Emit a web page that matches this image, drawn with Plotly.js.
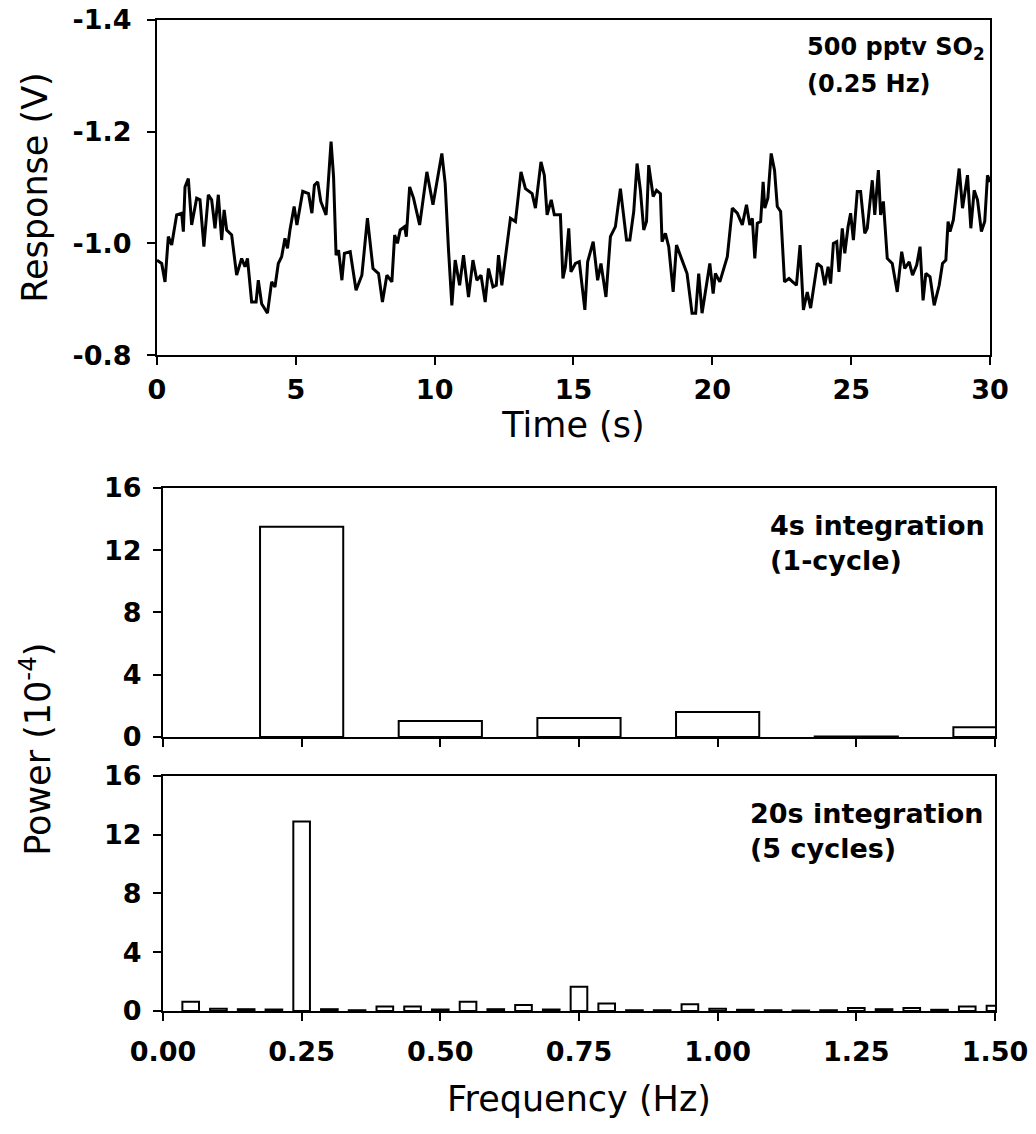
<!DOCTYPE html>
<html><head><meta charset="utf-8">
<script src="https://cdn.plot.ly/plotly-3.0.1.min.js"></script>
<style>body{margin:0;background:#fff}</style>
</head><body><div id="chart" style="width:1036px;height:1134px"></div>
<script>
// ---- data ----
const timeS = [0.00,0.17,0.29,0.41,0.53,0.71,0.89,0.95,1.01,1.13,1.25,1.43,1.55,1.69,1.85,1.97,2.09,2.21,2.33,2.42,2.51,2.69,2.87,3.05,3.17,3.26,3.41,3.57,3.65,3.77,3.98,4.13,4.25,4.37,4.49,4.61,4.70,4.79,4.94,5.04,5.25,5.46,5.58,5.67,5.79,5.90,6.09,6.27,6.36,6.45,6.54,6.66,6.75,6.96,7.17,7.38,7.58,7.78,7.98,8.12,8.28,8.46,8.56,8.66,8.76,8.92,8.98,9.10,9.24,9.46,9.72,9.94,10.26,10.38,10.50,10.62,10.74,10.90,11.04,11.22,11.38,11.52,11.67,11.82,11.94,12.10,12.22,12.30,12.42,12.73,12.91,13.11,13.27,13.51,13.63,13.83,13.95,14.05,14.20,14.31,14.53,14.62,14.71,14.83,14.91,15.07,15.21,15.41,15.51,15.71,15.87,15.99,16.17,16.33,16.51,16.69,16.91,17.03,17.17,17.29,17.41,17.53,17.63,17.71,17.87,17.99,18.13,18.19,18.31,18.43,18.59,18.71,18.91,19.09,19.27,19.40,19.51,19.63,19.91,20.03,20.11,20.27,20.54,20.72,20.90,21.08,21.23,21.35,21.44,21.53,21.62,21.74,21.83,21.89,22.00,22.12,22.24,22.34,22.46,22.60,22.76,23.03,23.16,23.28,23.42,23.54,23.78,23.93,24.05,24.17,24.26,24.36,24.48,24.56,24.68,24.77,24.89,24.98,25.08,25.22,25.34,25.49,25.58,25.76,25.85,25.98,26.06,26.16,26.30,26.48,26.66,26.82,26.93,27.09,27.21,27.36,27.48,27.59,27.69,27.84,27.99,28.17,28.29,28.41,28.49,28.56,28.68,28.89,29.01,29.19,29.31,29.43,29.55,29.69,29.81,29.91,30.00];
const responseV = [-0.970,-0.964,-0.931,-1.012,-0.997,-1.051,-1.054,-1.021,-1.101,-1.116,-1.033,-1.081,-1.078,-0.994,-1.087,-1.078,-1.027,-1.087,-1.006,-1.060,-1.024,-1.015,-0.943,-0.973,-0.958,-0.973,-0.895,-0.895,-0.934,-0.892,-0.875,-0.931,-0.922,-0.964,-0.976,-1.009,-0.991,-1.024,-1.066,-1.033,-1.093,-1.089,-1.054,-1.104,-1.110,-1.075,-1.051,-1.182,-1.119,-0.979,-0.988,-0.934,-0.982,-0.985,-0.916,-0.943,-1.045,-0.955,-0.946,-0.895,-0.943,-0.931,-1.015,-1.000,-1.024,-1.030,-1.012,-1.101,-1.081,-1.033,-1.128,-1.069,-1.161,-1.107,-0.988,-0.889,-0.970,-0.925,-0.979,-0.904,-0.970,-0.934,-0.943,-0.895,-0.955,-0.922,-0.925,-0.979,-0.925,-1.045,-1.039,-1.128,-1.098,-1.089,-1.063,-1.146,-1.122,-1.051,-1.078,-1.051,-1.051,-0.937,-0.958,-1.027,-0.949,-0.964,-0.967,-0.881,-0.967,-1.003,-0.934,-0.964,-0.904,-1.012,-1.030,-1.098,-1.006,-1.006,-1.057,-1.143,-1.095,-1.024,-1.039,-1.140,-1.084,-1.095,-1.089,-1.003,-1.018,-0.994,-0.913,-0.997,-0.970,-0.946,-0.875,-0.875,-0.946,-0.875,-0.964,-0.910,-0.946,-0.931,-0.976,-1.063,-1.054,-1.033,-1.069,-1.033,-1.045,-0.973,-1.036,-1.039,-1.110,-1.063,-1.081,-1.161,-1.131,-1.066,-1.057,-0.931,-0.937,-0.925,-0.997,-0.881,-0.913,-0.884,-0.964,-0.958,-0.925,-0.958,-0.928,-1.000,-1.003,-0.949,-1.027,-0.982,-1.030,-1.054,-1.006,-1.093,-1.093,-1.018,-1.027,-1.113,-1.051,-1.131,-1.051,-1.075,-0.973,-0.964,-0.913,-0.985,-0.955,-0.967,-0.943,-0.961,-0.994,-0.898,-0.946,-0.940,-0.889,-0.925,-0.964,-0.970,-1.039,-1.021,-1.042,-1.134,-1.063,-1.122,-1.027,-1.095,-1.078,-1.021,-1.039,-1.122,-1.110];

const freq4s = [0.25,0.50,0.75,1.00,1.25,1.50];
const power4s = [13.5,1.03,1.22,1.60,0.03,0.62];

const freq20s = [0.05,0.10,0.15,0.20,0.25,0.30,0.35,0.40,0.45,0.50,0.55,0.60,0.65,0.70,0.75,0.80,0.85,0.90,0.95,1.00,1.05,1.10,1.15,1.20,1.25,1.30,1.35,1.40,1.45,1.50];
const power20s = [0.62,0.15,0.12,0.10,12.9,0.12,0.05,0.30,0.30,0.10,0.62,0.12,0.40,0.10,1.65,0.50,0.05,0.05,0.45,0.15,0.08,0.05,0.03,0.05,0.20,0.12,0.20,0.08,0.30,0.35];

const timeTicks = [0,5,10,15,20,25,30];
const respTickVals = [-1.4,-1.2,-1.0,-0.8];
const respTickText = ['-1.4','-1.2','-1.0','-0.8'];
const powerTicks = [0,4,8,12,16];
const freqTicks = [0,0.25,0.5,0.75,1.0,1.25,1.5];
const freqTickText = ['0.00','0.25','0.50','0.75','1.00','1.25','1.50'];

// ---- styling ----
const tickFont = {family:'DejaVu Sans', size:27, color:'#000', weight:'bold'};
const titleFont = {family:'DejaVu Sans', size:35, color:'#000'};
const annFontTop = {family:'DejaVu Sans', size:24, color:'#000', weight:'bold'};
const annFont = {family:'DejaVu Sans', size:27, color:'#000', weight:'bold'};
const baseAxis = {showline:true, linecolor:'#000', linewidth:2, mirror:true, ticks:'outside',
  ticklen:8, tickwidth:2, tickcolor:'#000', showgrid:false, zeroline:false, tickfont:tickFont,
  fixedrange:true};

const traces = [
  {type:'scatter', mode:'lines', x:timeS, y:responseV, xaxis:'x', yaxis:'y',
   line:{color:'#000', width:3}},
  {type:'bar', x:freq4s, y:power4s, width:0.15, xaxis:'x2', yaxis:'y2',
   marker:{color:'#fff', line:{color:'#000', width:2}}},
  {type:'bar', x:freq20s, y:power20s, width:0.03, xaxis:'x3', yaxis:'y3',
   marker:{color:'#fff', line:{color:'#000', width:2}}}
];

const layout = {
  width:1036, height:1134, margin:{l:0,r:0,t:0,b:0},
  paper_bgcolor:'#fff', plot_bgcolor:'#fff', showlegend:false,
  xaxis:Object.assign({}, baseAxis, {domain:[0.1515,0.9556], range:[0,30], anchor:'y',
    tickvals:timeTicks, ticklabelstandoff:2, title:{text:'Time (s)', font:titleFont, standoff:0}}),
  yaxis:Object.assign({}, baseAxis, {domain:[0.6869,0.9824], range:[-0.8,-1.4], anchor:'x',
    tickvals:respTickVals, ticktext:respTickText, ticklabelstandoff:10,
    title:{text:'Response (V)', font:titleFont, standoff:14}}),
  xaxis2:Object.assign({}, baseAxis, {domain:[0.1573,0.9604], range:[0,1.5], anchor:'y2',
    tickvals:freqTicks, showticklabels:false}),
  yaxis2:Object.assign({}, baseAxis, {domain:[0.3501,0.5697], range:[0,16], anchor:'x2',
    tickvals:powerTicks, ticklabelstandoff:6}),
  xaxis3:Object.assign({}, baseAxis, {domain:[0.1573,0.9604], range:[0,1.5], anchor:'y3',
    tickvals:freqTicks, ticktext:freqTickText, ticklabelstandoff:8,
    title:{text:'Frequency (Hz)', font:titleFont, standoff:20}}),
  yaxis3:Object.assign({}, baseAxis, {domain:[0.1085,0.3157], range:[0,16], anchor:'x3',
    tickvals:powerTicks, ticklabelstandoff:6}),
  annotations:[
    {text:'500 pptv SO<sub>2</sub>', xref:'paper', yref:'paper', x:0.777, y:0.957, xanchor:'left', yanchor:'middle', showarrow:false, font:annFontTop},
    {text:'(0.25 Hz)', xref:'paper', yref:'paper', x:0.777, y:0.926, xanchor:'left', yanchor:'middle', showarrow:false, font:annFontTop},
    {text:'4s integration', xref:'paper', yref:'paper', x:0.741, y:0.537, xanchor:'left', yanchor:'middle', showarrow:false, font:annFont},
    {text:'(1-cycle)', xref:'paper', yref:'paper', x:0.741, y:0.506, xanchor:'left', yanchor:'middle', showarrow:false, font:annFont},
    {text:'20s integration', xref:'paper', yref:'paper', x:0.722, y:0.283, xanchor:'left', yanchor:'middle', showarrow:false, font:annFont},
    {text:'(5 cycles)', xref:'paper', yref:'paper', x:0.722, y:0.252, xanchor:'left', yanchor:'middle', showarrow:false, font:annFont},
    {text:'Power (10<sup>-4</sup>)', xref:'paper', yref:'paper', x:0.034, y:0.339, xanchor:'center', yanchor:'middle', textangle:-90, showarrow:false, font:titleFont}
  ]
};

Plotly.newPlot('chart', traces, layout, {staticPlot:true, displayModeBar:false});
</script>
</body></html>
